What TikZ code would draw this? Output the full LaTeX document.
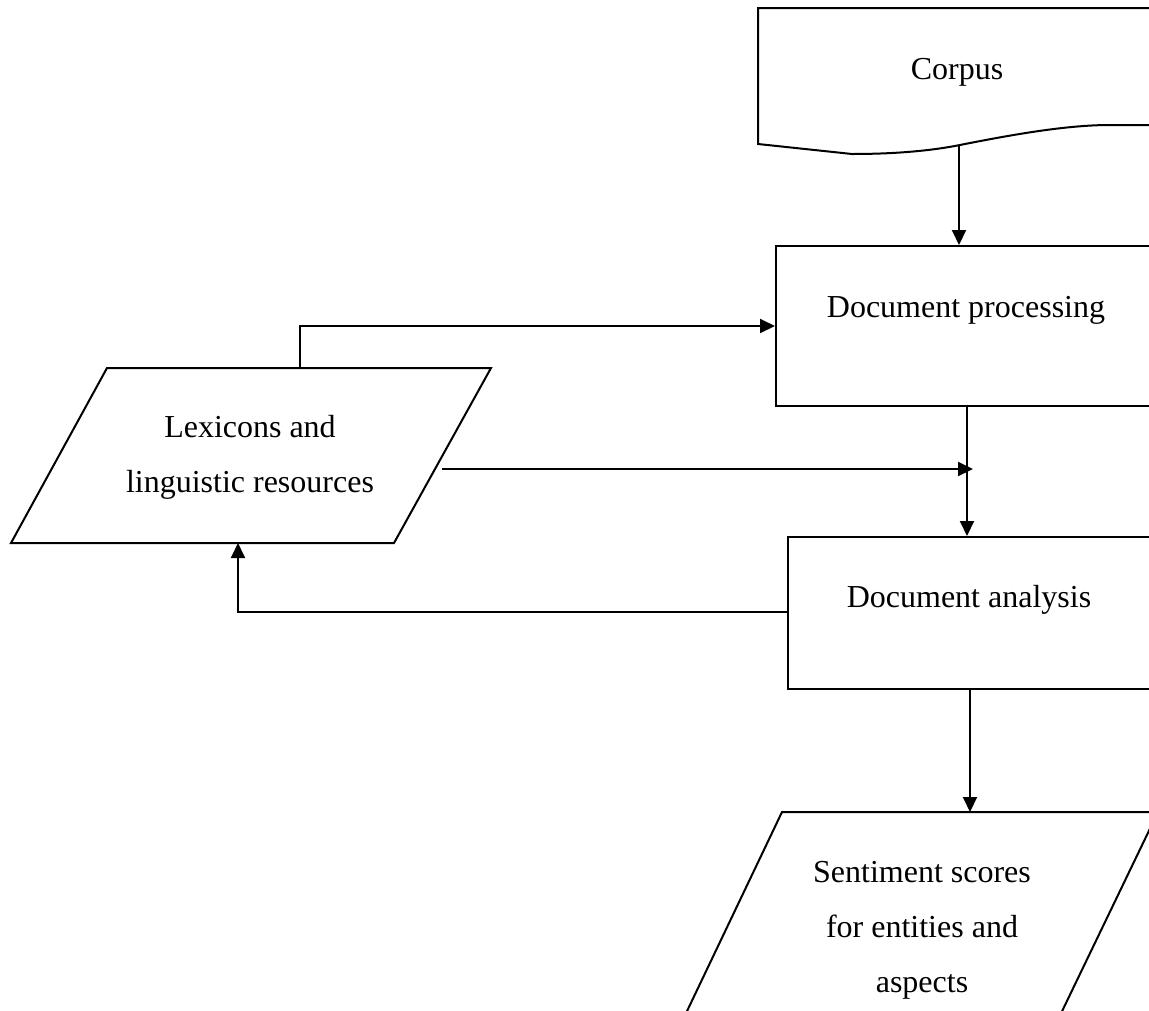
\documentclass[tikz,border=0pt]{standalone}
\usepackage{fontspec}
\setmainfont{Liberation Serif}
\usetikzlibrary{arrows.meta}
\begin{document}
\begin{tikzpicture}[x=1pt,y=-1pt,line width=2pt,
  arr/.style={-{Triangle[length=15pt,width=14pt]}},
  lbl/.style={font=\fontsize{32}{55}\selectfont,align=center,inner sep=0pt},
  boxn/.style={draw,rectangle,inner sep=0pt,anchor=north west}]
\useasboundingbox (0,0) rectangle (1149,1010);
\clip (0,0) rectangle (1149,1010);
% Corpus (document shape)
\draw (1170,8) -- (758,8) -- (758,144) -- (852,154)
  .. controls (900,154) and (935,150) .. (960,145)
  .. controls (1020,133) and (1070,125) .. (1110,125) -- (1170,125);
\coordinate (corpusbot) at (959,145);
\node[lbl] (corpus) at (957,72) {Corpus};
% Document processing
\node[boxn,minimum width=420pt,minimum height=160pt] (proc) at (775,245) {};
\node[lbl] (proctext) at (966,310) {Document processing};
% Document analysis
\node[boxn,minimum width=420pt,minimum height=152pt] (anal) at (787,536) {};
\node[lbl] (analtext) at (969,600) {Document analysis};
% Lexicons parallelogram
\draw (107,368) -- (491,368) -- (394,543) -- (11,543) -- cycle;
\node[lbl] (lex) at (250,457) {Lexicons and\\linguistic resources};
\coordinate (lextop) at (300,368);
\coordinate (lexright) at (442,469);
\coordinate (lexbot) at (238,543);
% Sentiment parallelogram
\draw (678,1030) -- (782,812) -- (1158,812) -- (1053,1030);
\node[lbl] (sent) at (922,930) {Sentiment scores\\for entities and\\aspects};
\coordinate (senttop) at (970,812);
% Connectors
\coordinate (procx) at (967,0);
\coordinate (junction) at (973,469);
\draw[arr] (corpusbot) -- (proc.north -| corpusbot);
\draw[arr] (lextop) |- (proc.west);
\draw[arr] (proc.south -| procx) -- (anal.north -| procx);
\draw[arr] (lexright) -- (junction);
\draw[arr] (anal.west |- 0,612) -| (lexbot);
\draw[arr] (anal.south -| senttop) -- (senttop);
\end{tikzpicture}
\end{document}
